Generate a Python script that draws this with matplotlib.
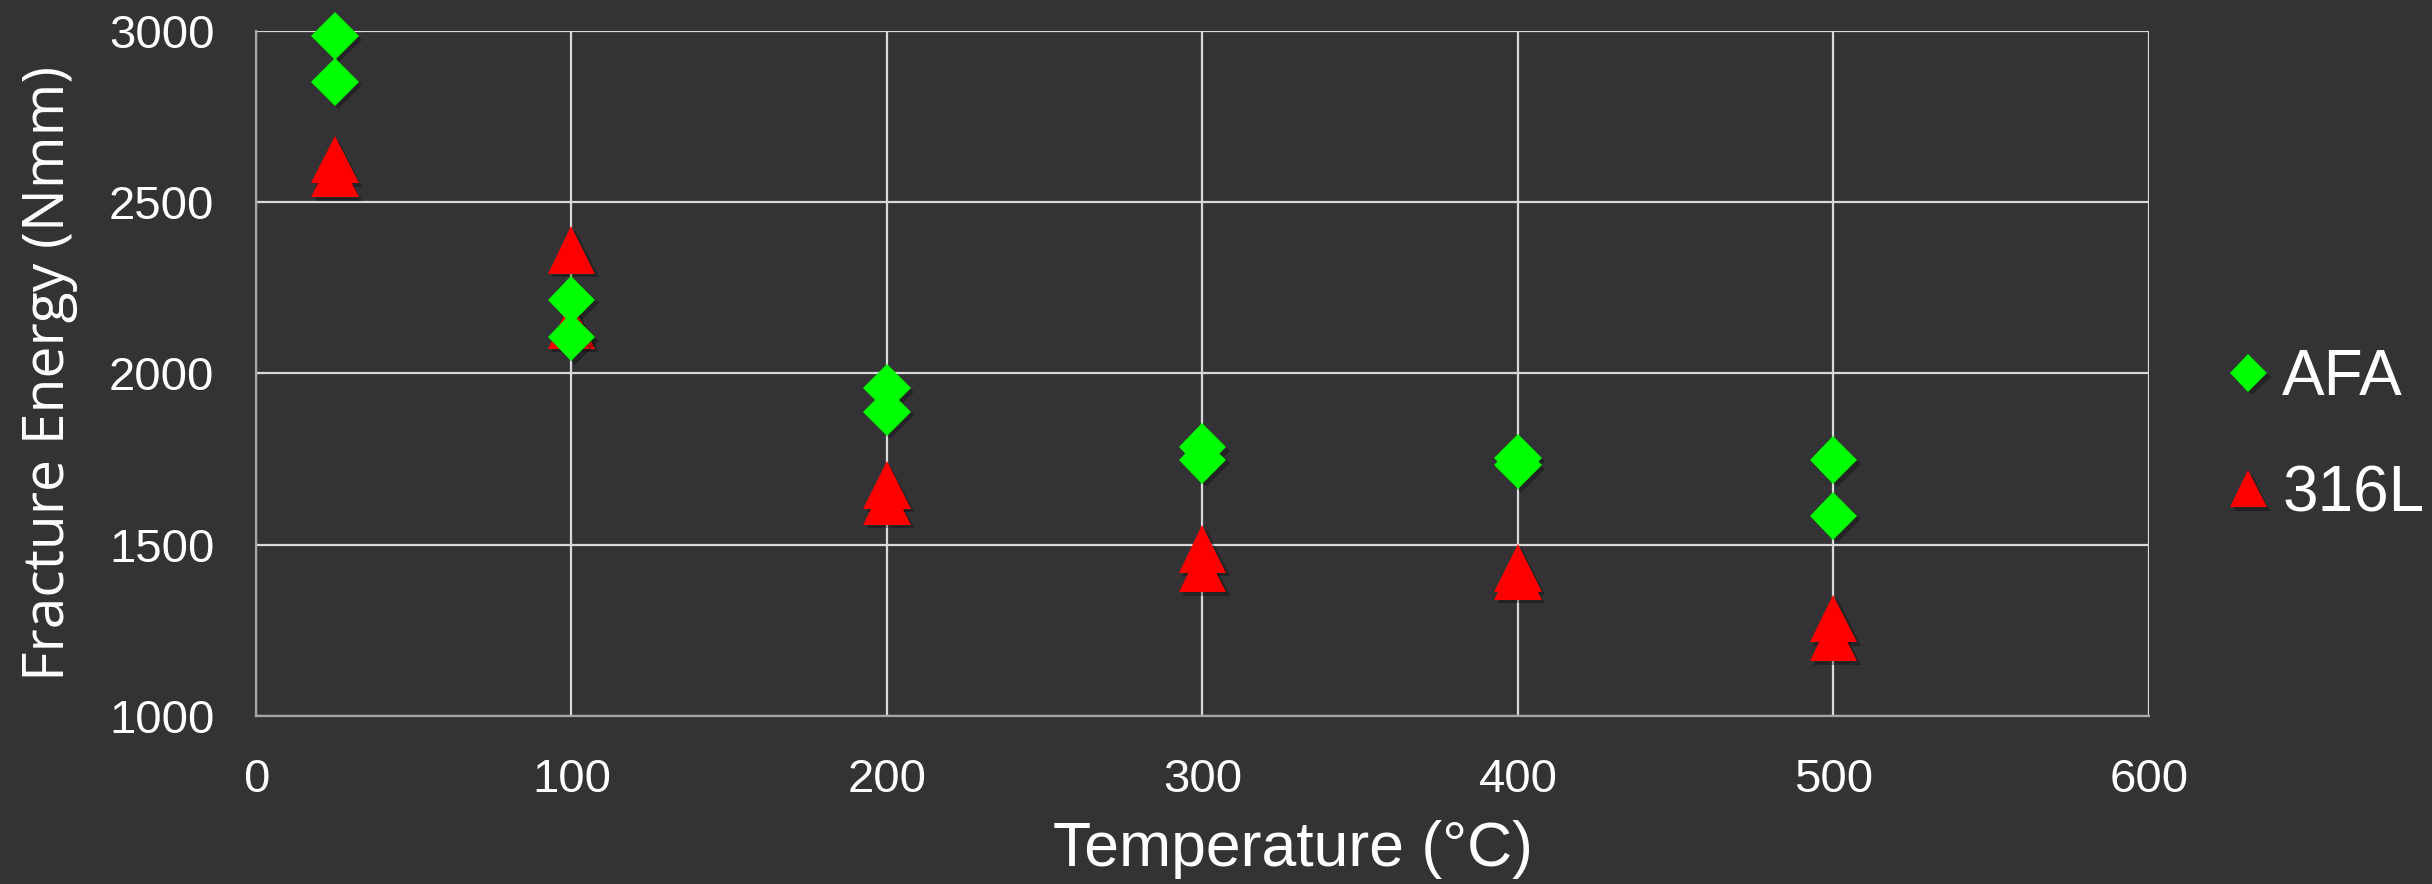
import matplotlib
matplotlib.use("Agg")
import matplotlib.pyplot as plt
import matplotlib.patheffects as pe

# fracture energy vs test temperature, two alloys, two specimens each
temp_afa = [25, 25, 100, 100, 200, 200, 300, 300, 400, 400, 500, 500]
energy_afa = [2985, 2852, 2215, 2106, 1957, 1888, 1785, 1748, 1754, 1732, 1747, 1584]

temp_316 = [25, 25, 100, 100, 200, 200, 300, 300, 400, 400, 500, 500]
energy_316 = [2625, 2584, 2360, 2141, 1674, 1628, 1488, 1431, 1433, 1409, 1285, 1230]

x_ticks = [0, 100, 200, 300, 400, 500, 600]
y_ticks = [1000, 1500, 2000, 2500, 3000]

bg = '#333335'
grid_col = '#d9d9d9'

plt.rcParams['font.family'] = ['Liberation Sans', 'DejaVu Sans']

fig = plt.figure(figsize=(24.32, 8.84), dpi=100, facecolor=bg)
ax = fig.add_axes([0.10526, 0.19005, 0.77837, 0.77488])
ax.set_facecolor(bg)

shadow = [pe.SimplePatchShadow(offset=(2.5, -2.5), shadow_rgbFace='black', alpha=0.3), pe.Normal()]

l316, = ax.plot(temp_316, energy_316, linestyle='none', marker='^', markersize=34.3,
                color='#ff0000', markeredgewidth=0, zorder=3, path_effects=shadow,
                clip_on=False, label='316L')
lafa, = ax.plot(temp_afa, energy_afa, linestyle='none', marker='D', markersize=24.3,
                color='#00ff00', markeredgewidth=0, zorder=4, path_effects=shadow,
                clip_on=False, label='AFA')

ax.set_xlim(0, 600)
ax.set_ylim(1000, 3000)
ax.set_xticks(x_ticks)
ax.set_yticks(y_ticks)
ax.grid(True, color=grid_col, linewidth=1.6)
ax.set_axisbelow(True)
for side in ['top', 'right']:
    ax.spines[side].set_visible(False)
for side in ['left', 'bottom']:
    ax.spines[side].set_color('#a6a6a6')
    ax.spines[side].set_linewidth(1.6)

ax.tick_params(length=0, labelsize=34, colors='white', pad=30)

ax.set_xlabel('Temperature (°C)', fontsize=45, color='white')
ax.xaxis.label.set_horizontalalignment('left')
ax.xaxis.set_label_coords(0.421, -0.152)

ax.set_ylabel('Fracture Energy (Nmm)', fontsize=41, color='white',
              family=['Open Sans', 'DejaVu Sans'])
ax.yaxis.set_label_coords(-0.094, 0.5)

leg = ax.legend(handles=[lafa, l316], loc='center left', bbox_to_anchor=(0.893, 0.5065),
                bbox_transform=fig.transFigure, frameon=False, fontsize=46,
                markerscale=0.78, handlelength=0.6, handletextpad=0.23, labelspacing=0.87)
for t in leg.get_texts():
    t.set_color('white')

fig.savefig('out.png', dpi=100, facecolor=bg)
